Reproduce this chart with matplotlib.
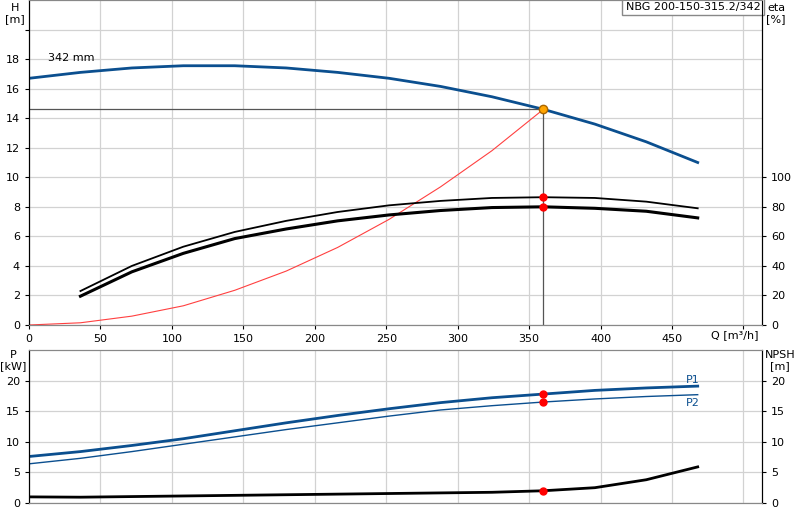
import matplotlib.pyplot as plt

# Kurvendaten
q_h = [0, 36, 72, 108, 144, 180, 216, 252, 288, 324, 360, 396, 432, 468]
h_342 = [16.7, 17.1, 17.4, 17.55, 17.55, 17.4, 17.1, 16.7, 16.15, 15.45, 14.6, 13.6, 12.4, 11.0]

q_eta = [36, 72, 108, 144, 180, 216, 252, 288, 324, 360, 396, 432, 468]
eta_1 = [23, 40, 53, 63, 70.5, 76.5, 81, 84, 86, 86.5, 86, 83.5, 79]
eta_2 = [19.5, 36, 48.5, 58.5, 65, 70.5, 74.5, 77.5, 79.5, 80, 79, 77, 72.5]

q_sys = [0, 36, 72, 108, 144, 180, 216, 252, 288, 324, 360]
h_sys = [0, 0.15, 0.6, 1.3, 2.35, 3.65, 5.25, 7.15, 9.35, 11.8, 14.6]

p1 = [7.6, 8.4, 9.4, 10.5, 11.8, 13.1, 14.3, 15.4, 16.4, 17.2, 17.8, 18.4, 18.8, 19.1]
p2 = [6.4, 7.3, 8.4, 9.6, 10.8, 12.0, 13.1, 14.2, 15.2, 15.9, 16.5, 17.0, 17.4, 17.7]
npsh = [1.0, 0.95, 1.05, 1.15, 1.25, 1.35, 1.45, 1.55, 1.65, 1.75, 2.0, 2.5, 3.8, 5.9]

q_op = 360
h_op = 14.6
eta_op = [86.5, 80]
p_op = [17.8, 16.5]
npsh_op = 2.0

blau = '#0b4f8f'
grau = '#d2d2d2'

fig = plt.figure(figsize=(8, 5.2), dpi=100)
ax = fig.add_axes([29/800, 195/520, 733/800, 325/520])
ax2 = ax.twinx()
axp = fig.add_axes([29/800, 17/520, 733/800, 153/520])
axn = axp.twinx()

ax.set_xlim(0, 513)
ax.set_ylim(0, 22)
ax2.set_ylim(0, 220)
axp.set_xlim(0, 513)
axp.set_ylim(0, 25)
axn.set_ylim(0, 25)

for a in (ax, axp):
    a.set_xticks(range(0, 501, 50))
    a.grid(True, color=grau, linewidth=0.9)
    a.tick_params(labelsize=8, direction='out', length=3)
ax.set_xticklabels([str(v) for v in range(0, 451, 50)] + [''])
axp.set_xticklabels([])
axp.tick_params(axis='x', length=0)
ax.set_yticks(range(0, 21, 2))
ax.set_yticklabels([str(v) for v in range(0, 19, 2)] + [''])
ax2.set_yticks(range(0, 101, 20))
ax2.tick_params(labelsize=8, direction='out', length=3)
axp.set_yticks(range(0, 21, 5))
axn.set_yticks(range(0, 21, 5))
axn.tick_params(labelsize=8, direction='out', length=3)

for a in (ax, ax2, axp, axn):
    for s in a.spines.values():
        s.set_color('#888888')
    a.spines['left'].set_color('black')
    a.spines['right'].set_color('black')

# oberes Diagramm
ax.plot(q_h, h_342, color=blau, linewidth=2)
ax.plot(q_sys, h_sys, color='#ff4040', linewidth=0.8)
ax.plot([0, q_op], [h_op, h_op], color='#555555', linewidth=0.9)
ax.plot([q_op, q_op], [0, h_op], color='#555555', linewidth=0.9)
ax2.plot(q_eta, eta_1, color='black', linewidth=1.3)
ax2.plot(q_eta, eta_2, color='black', linewidth=2.2)
ax2.plot([q_op] * 2, eta_op, 'o', color='red', markersize=5, zorder=5)
ax.plot(q_op, h_op, 'o', color='orange', markeredgecolor='#aa6600', markersize=6, zorder=6)
ax.text(13, 17.9, '342 mm', fontsize=8)

# unteres Diagramm
axp.plot(q_h, p1, color=blau, linewidth=2)
axp.plot(q_h, p2, color=blau, linewidth=1)
axn.plot(q_h, npsh, color='black', linewidth=2)
axp.plot([q_op] * 2, p_op, 'o', color='red', markersize=5, zorder=5)
axn.plot(q_op, npsh_op, 'o', color='red', markersize=5, zorder=5)
axp.text(460, 19.6, 'P1', fontsize=8, color=blau)
axp.text(460, 15.9, 'P2', fontsize=8, color=blau)

# Beschriftungen
fig.text(15/800, 1 - 3/520, 'H\n[m]', fontsize=8, ha='center', va='top', linespacing=1.1)
fig.text(776/800, 1 - 3/520, 'eta\n[%]', fontsize=8, ha='center', va='top', linespacing=1.1)
fig.text(13/800, 1 - 350/520, 'P\n[kW]', fontsize=8, ha='center', va='top', linespacing=1.1)
fig.text(780/800, 1 - 350/520, 'NPSH\n[m]', fontsize=8, ha='center', va='top', linespacing=1.1)
fig.text(735/800, 1 - 335/520, 'Q [m³/h]', fontsize=8, ha='center', va='center')
ax.text(0.998, 0.995, 'NBG 200-150-315.2/342', transform=ax.transAxes, fontsize=8,
        ha='right', va='top',
        bbox=dict(facecolor='white', edgecolor='#888888', boxstyle='square,pad=0.3'))

fig.savefig('out.png', dpi=100)
